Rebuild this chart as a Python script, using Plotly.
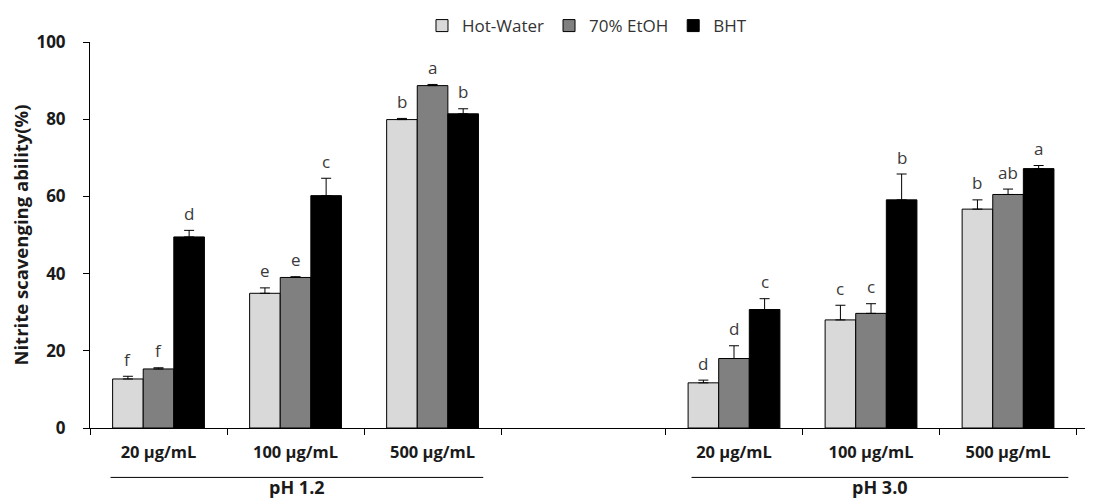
import plotly.graph_objects as go

# ---- data ----
series = ["Hot-Water", "70% EtOH", "BHT"]
colors = ["#d9d9d9", "#808080", "#000000"]
conc_labels = ["20 µg/mL", "100 µg/mL", "500 µg/mL", "20 µg/mL", "100 µg/mL", "500 µg/mL"]
group_pos = [0.5, 1.5, 2.5, 4.7, 5.7, 6.7]          # category centres on the x axis
boundary_pos = [0, 1, 2, 3, 4.2, 5.2, 6.2, 7.2]      # tick marks between categories
y_ticks = [0, 20, 40, 60, 80, 100]

hot_water = [12.7, 34.9, 79.9, 11.7, 28.0, 56.7]
hot_water_err = [0.7, 1.4, 0.3, 0.7, 3.8, 2.4]
etoh70 = [15.3, 39.0, 88.7, 18.0, 29.7, 60.5]
etoh70_err = [0.3, 0.2, 0.3, 3.3, 2.5, 1.4]
bht = [49.5, 60.2, 81.4, 30.7, 59.1, 67.2]
bht_err = [1.7, 4.5, 1.3, 2.8, 6.7, 0.8]

letters_hw = ["f", "e", "b", "d", "c", "b"]
letters_etoh = ["f", "e", "a", "d", "c", "ab"]
letters_bht = ["d", "c", "b", "c", "b", "a"]

ph_groups = ["pH 1.2", "pH 3.0"]
ph_spans = [(0.15, 2.87), (4.39, 7.14)]

values = [hot_water, etoh70, bht]
errors = [hot_water_err, etoh70_err, bht_err]
letters = [letters_hw, letters_etoh, letters_bht]

FONT = "Open Sans"
TXT = "#1a1a1a"

fig = go.Figure()
for name, col, vals, errs in zip(series, colors, values, errors):
    fig.add_trace(go.Bar(
        name=name, x=group_pos, y=vals,
        marker=dict(color=col, line=dict(color="#000000", width=1)),
        error_y=dict(type="data", array=errs, arrayminus=[0] * len(errs), symmetric=False,
                     color="#000000", thickness=1, width=5),
    ))

# invisible trace to carry the boundary-tick axis
fig.add_trace(go.Scatter(x=boundary_pos, y=[0] * len(boundary_pos), xaxis="x2",
                         mode="markers", marker=dict(opacity=0), showlegend=False,
                         hoverinfo="skip"))

# significance letters above the error bars
bar_w = 0.67 / 3
for si in range(3):
    offset = (si - 1) * bar_w
    for gi in range(len(group_pos)):
        fig.add_annotation(x=group_pos[gi] + offset, y=values[si][gi] + errors[si][gi],
                           xref="x", yref="y", text=letters[si][gi], showarrow=False,
                           yanchor="middle", yshift=17,
                           font=dict(family=FONT, size=17, color="#3a3a3a"))

# pH grouping lines and labels
for label, (x0, x1) in zip(ph_groups, ph_spans):
    fig.add_shape(type="line", xref="x", yref="paper", x0=x0, x1=x1, y0=-0.128, y1=-0.128,
                  line=dict(color="#000000", width=1))
    fig.add_annotation(x=(x0 + x1) / 2, y=-0.189, xref="x", yref="paper", text="<b>%s</b>" % label,
                       showarrow=False, yanchor="bottom",
                       font=dict(family=FONT, size=18, color=TXT))

fig.update_layout(
    width=1093, height=503,
    margin=dict(l=82, r=8, t=34, b=83, autoexpand=False),
    paper_bgcolor="white", plot_bgcolor="white",
    barmode="group", bargap=0.33, bargroupgap=0,
    font=dict(family=FONT, size=14, color=TXT),
    legend=dict(orientation="h", x=0.4955, xanchor="center", y=1.088, yanchor="top",
                font=dict(family=FONT, size=17, color="#333333"), borderwidth=0,
                itemwidth=30, traceorder="normal", bgcolor="rgba(0,0,0,0)"),
    xaxis=dict(range=[0, 7.32], tickvals=group_pos, ticktext=["<b>%s</b>" % t for t in conc_labels],
               ticks="", showline=True, linecolor="#000000", linewidth=1, showgrid=False,
               zeroline=False, ticklabelstandoff=9,
               tickfont=dict(family=FONT, size=16.5, color=TXT)),
    xaxis2=dict(range=[0, 7.32], overlaying="x", anchor="y", side="bottom",
                tickvals=boundary_pos, showticklabels=False, ticks="outside", ticklen=6,
                tickcolor="#000000", tickwidth=1, showgrid=False, showline=False, zeroline=False),
    yaxis=dict(range=[0, 100], tickvals=y_ticks, ticktext=["<b>%d</b>" % v for v in y_ticks],
               ticks="outside", ticklen=6,
               tickcolor="#000000", showline=True, linecolor="#000000", linewidth=1,
               showgrid=False, zeroline=False, ticklabelstandoff=14,
               tickfont=dict(family=FONT, size=17, color=TXT),
               title=dict(text="<b>Nitrite scavenging ability(%)</b>", standoff=7,
                          font=dict(family=FONT, size=18.5, color=TXT))),
)

fig.write_html("out.html")
